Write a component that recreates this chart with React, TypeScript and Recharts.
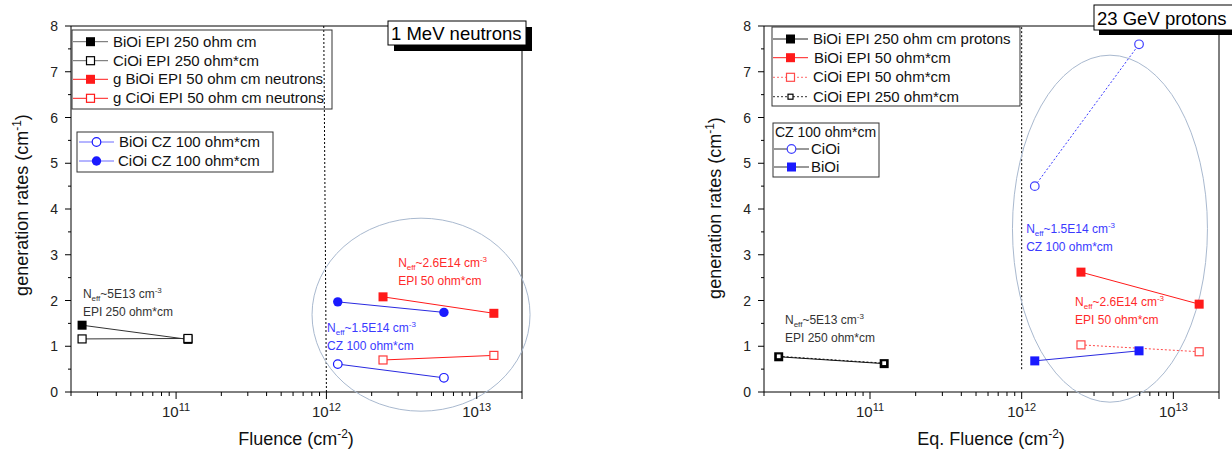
import React from "react";
import {
  ScatterChart,
  Scatter,
  XAxis,
  YAxis,
  ReferenceLine,
  ReferenceDot,
} from "recharts";

const FONT = "'Liberation Sans', Arial, Helvetica, sans-serif";

// 1 MeV neutrons
const nFluenceEpi250 = [2.37e10, 1.2e11];
const nBiOiEpi250 = [1.46, 1.15];
const nCiOiEpi250 = [1.16, 1.17];
const nFluenceEpi50 = [2.38e12, 1.3e13];
const nBiOiEpi50 = [2.08, 1.72];
const nCiOiEpi50 = [0.7, 0.8];
const nFluenceCz = [1.19e12, 6.05e12];
const nBiOiCz = [0.61, 0.31];
const nCiOiCz = [1.97, 1.74];

// 23 GeV protons
const pFluenceEpi250 = [2.5e10, 1.24e11];
const pBiOiEpi250 = [0.77, 0.62];
const pCiOiEpi250 = [0.78, 0.63];
const pFluenceEpi50 = [2.46e12, 1.48e13];
const pBiOiEpi50 = [2.62, 1.92];
const pCiOiEpi50 = [1.03, 0.88];
const pFluenceCz = [1.22e12, 5.94e12];
const pBiOiCz = [0.68, 0.9];
const pCiOiCz = [4.5, 7.6];

const xDomain = [2e10, 2e13];
const xTicks = [
  2e10, 3e10, 4e10, 5e10, 6e10, 7e10, 8e10, 9e10,
  1e11, 2e11, 3e11, 4e11, 5e11, 6e11, 7e11, 8e11, 9e11,
  1e12, 2e12, 3e12, 4e12, 5e12, 6e12, 7e12, 8e12, 9e12,
  1e13, 2e13,
];
const xMajor = [1e11, 1e12, 1e13];
const yTicks = [0, 0.5, 1, 1.5, 2, 2.5, 3, 3.5, 4, 4.5, 5, 5.5, 6, 6.5, 7, 7.5, 8];

const pts = (xs: number[], ys: number[]) => xs.map((x, i) => ({ x, y: ys[i] }));

const RED = "#ff1a1a";
const BLUE = "#1a1aff";

function Marker({ kind, cx, cy, color }: { kind: string; cx: number; cy: number; color: string }) {
  if (kind === "sq") return <rect x={cx - 4.5} y={cy - 4.5} width={9} height={9} fill={color} />;
  if (kind === "osq")
    return <rect x={cx - 4} y={cy - 4} width={8} height={8} fill="#fff" stroke={color} strokeWidth={1.2} />;
  if (kind === "tsq")
    return <rect x={cx - 2.5} y={cy - 2.5} width={5} height={5} fill="#fff" stroke={color} strokeWidth={1.2} />;
  if (kind === "circ") return <circle cx={cx} cy={cy} r={4.7} fill={color} />;
  return <circle cx={cx} cy={cy} r={4.3} fill="#fff" stroke={color} strokeWidth={1.2} />;
}

const shape = (kind: string, color: string) => (p: any) =>
  <Marker kind={kind} cx={p.cx} cy={p.cy} color={color} />;

const XTick = (props: any) => {
  const { x, y, payload } = props;
  const v = payload.value;
  const major = xMajor.includes(v) || v === xDomain[1];
  const len = major ? 7 : 4;
  return (
    <g>
      <line x1={x} x2={x} y1={y} y2={y + len} stroke="#000" strokeWidth={1} />
      {xMajor.includes(v) && (
        <text x={x} y={y + 25} textAnchor="middle" fontFamily={FONT} fill="#222" style={{ fontSize: 15 }}>
          <tspan style={{ fontSize: 15 }}>10</tspan>
          <tspan dy={-6} style={{ fontSize: 11 }}>{Math.round(Math.log10(v))}</tspan>
        </text>
      )}
    </g>
  );
};

const YTick = (props: any) => {
  const { x, y, payload } = props;
  const v = payload.value;
  const major = Number.isInteger(v);
  return (
    <g>
      <line x1={x - (major ? 6 : 3)} x2={x} y1={y} y2={y} stroke="#000" strokeWidth={1} />
      {major && (
        <text x={x - 13} y={y + 5} textAnchor="end" fontSize={14} fontFamily={FONT} fill="#222">
          {v}
        </text>
      )}
    </g>
  );
};

const note = (color: string, value: string, material: string) => (p: any) => (
  <text x={p.cx} y={p.cy} fill={color} fontSize={12} fontFamily={FONT}>
    <tspan>N</tspan>
    <tspan fontSize={8} dy={3}>eff</tspan>
    <tspan dy={-3}>{value} cm</tspan>
    <tspan fontSize={8} dy={-5}>-3</tspan>
    <tspan x={p.cx} dy={23}>{material}</tspan>
  </text>
);

const ellipse = (rx: number, ry: number) => (p: any) => (
  <ellipse cx={p.cx} cy={p.cy} rx={rx} ry={ry} fill="none" stroke="#a9b9cf" strokeWidth={1} />
);

const axes = (
  <>
    <XAxis
      dataKey="x"
      type="number"
      scale="log"
      domain={xDomain}
      allowDataOverflow
      ticks={xTicks}
      interval={0}
      tickSize={0}
      tickMargin={0}
      tickLine={false}
      height={60}
      axisLine={{ stroke: "#000" }}
      tick={<XTick />}
    />
    <YAxis
      dataKey="y"
      type="number"
      domain={[0, 8]}
      ticks={yTicks}
      interval={0}
      tickSize={0}
      tickMargin={0}
      tickLine={false}
      width={71}
      axisLine={{ stroke: "#000" }}
      tick={<YTick />}
    />
    <ReferenceLine y={8} stroke="#000" ifOverflow="visible" />
    <ReferenceLine x={2e13} stroke="#000" ifOverflow="visible" />
  </>
);

function LegendRow({ x, y, kind, color, lineColor, dash, label, textX, width = 35 }: any) {
  return (
    <g>
      <line x1={x} x2={x + width} y1={y} y2={y} stroke={lineColor} strokeDasharray={dash} />
      <Marker kind={kind} cx={x + width / 2} cy={y} color={color} />
      <text x={textX} y={y + 5} fontSize={15} fontFamily={FONT} fill="#111">
        {label}
      </text>
    </g>
  );
}

function Overlay() {
  return (
    <svg
      width={1232}
      height={452}
      style={{ position: "absolute", left: 0, top: 0, pointerEvents: "none" }}
    >
      {/* axis titles */}
      <text transform="rotate(-90)" x={-205} y={28} textAnchor="middle" fontSize={18} fontFamily={FONT} fill="#111">
        generation rates (cm<tspan dy={-7} fontSize={12}>-1</tspan>
        <tspan dy={7}>)</tspan>
      </text>
      <text x={296} y={445} textAnchor="middle" fontSize={18} fontFamily={FONT} fill="#111">
        Fluence (cm<tspan dy={-7} fontSize={12}>-2</tspan>
        <tspan dy={7}>)</tspan>
      </text>
      <text transform="rotate(-90)" x={-208} y={721} textAnchor="middle" fontSize={18} fontFamily={FONT} fill="#111">
        generation rates (cm<tspan dy={-7} fontSize={12}>-1</tspan>
        <tspan dy={7}>)</tspan>
      </text>
      <text x={991} y={445} textAnchor="middle" fontSize={18} fontFamily={FONT} fill="#111">
        Eq. Fluence (cm<tspan dy={-7} fontSize={12}>-2</tspan>
        <tspan dy={7}>)</tspan>
      </text>

      {/* title boxes */}
      <rect x={394} y={27} width={138} height={24} fill="#000" />
      <rect x={388} y={21} width={138} height={24} fill="#fff" stroke="#000" />
      <text x={391} y={39.5} fontSize={18.5} fontFamily={FONT} fill="#000">1 MeV neutrons</text>
      <rect x={1099} y={10} width={140} height={25} fill="#000" />
      <rect x={1094} y={5} width={140} height={25} fill="#fff" stroke="#000" />
      <text x={1097} y={25} fontSize={18.5} fontFamily={FONT} fill="#000">23 GeV protons</text>

      {/* left legends */}
      <rect x={72} y={30} width={260} height={79} fill="none" stroke="#333" />
      <LegendRow x={73} y={41.7} kind="sq" color="#000" lineColor="#666" label="BiOi EPI 250 ohm cm" textX={113} />
      <LegendRow x={73} y={60.7} kind="osq" color="#000" lineColor="#666" label="CiOi EPI 250 ohm*cm" textX={113} />
      <LegendRow x={73} y={79.3} kind="sq" color={RED} lineColor={RED} label="g BiOi EPI 50 ohm cm neutrons" textX={113} />
      <LegendRow x={73} y={98.3} kind="osq" color={RED} lineColor={RED} label="g CiOi EPI 50 ohm cm neutrons" textX={113} />
      <rect x={77} y={132} width={196} height={40} fill="none" stroke="#333" />
      <LegendRow x={79} y={142} kind="ocirc" color={BLUE} lineColor="#6a6aff" label=" BiOi CZ 100 ohm*cm" textX={119} />
      <LegendRow x={79} y={161} kind="circ" color={BLUE} lineColor="#6a6aff" label="CiOi CZ 100 ohm*cm" textX={118} />

      {/* right legends */}
      <rect x={772} y={27} width={248} height={79} fill="none" stroke="#333" />
      <LegendRow x={773} y={39} kind="sq" color="#000" lineColor="#222" label="BiOi EPI 250 ohm cm protons" textX={813} />
      <LegendRow x={773} y={57.7} kind="sq" color={RED} lineColor={RED} label=" BiOi EPI 50 ohm*cm" textX={814} />
      <LegendRow x={773} y={77.3} kind="osq" color="#ff4a4a" lineColor="#ff6a6a" dash="2 2" label="CiOi EPI 50 ohm*cm" textX={813} />
      <LegendRow x={773} y={96.7} kind="tsq" color="#000" lineColor="#333" dash="2 2" label="CiOi EPI 250 ohm*cm" textX={813} />
      <rect x={773} y={123} width={106} height={54} fill="none" stroke="#333" />
      <text x={775} y={137} fontSize={14} fontFamily={FONT} fill="#111">CZ 100 ohm*cm</text>
      <LegendRow x={774} y={149} kind="ocirc" color="#4040ff" lineColor="#333" label="CiOi" textX={811} />
      <LegendRow x={774} y={167} kind="sq" color={BLUE} lineColor="#333" label="BiOi" textX={811} />
    </svg>
  );
}

export default function App() {
  return (
    <div style={{ position: "absolute", left: 0, top: 0, width: 1232, height: 452, background: "#fff", fontFamily: FONT }}>
      <div style={{ position: "absolute", left: 0, top: 0 }}>
        <ScatterChart width={540} height={452} margin={{ top: 26, right: 18, bottom: 0, left: 0 }}>
          {axes}
          <ReferenceLine
            segment={[{ x: 1e12, y: 0 }, { x: 0.96e12, y: 8 }]}
            stroke="#000"
            strokeDasharray="2 2"
          />
          <ReferenceDot x={4.26e12} y={1.69} r={0} ifOverflow="visible" shape={ellipse(109, 96.5)} />
          <Scatter data={pts(nFluenceEpi250, nBiOiEpi250)} line={{ stroke: "#333", strokeWidth: 1 }} lineType="joint" shape={shape("sq", "#000")} isAnimationActive={false} />
          <Scatter data={pts(nFluenceEpi250, nCiOiEpi250)} line={{ stroke: "#333", strokeWidth: 1 }} lineType="joint" shape={shape("osq", "#000")} isAnimationActive={false} />
          <Scatter data={pts(nFluenceEpi50, nBiOiEpi50)} line={{ stroke: RED, strokeWidth: 1 }} lineType="joint" shape={shape("sq", RED)} isAnimationActive={false} />
          <Scatter data={pts(nFluenceEpi50, nCiOiEpi50)} line={{ stroke: RED, strokeWidth: 1 }} lineType="joint" shape={shape("osq", "#ff3a3a")} isAnimationActive={false} />
          <Scatter data={pts(nFluenceCz, nBiOiCz)} line={{ stroke: "#2a2ae0", strokeWidth: 1 }} lineType="joint" shape={shape("ocirc", BLUE)} isAnimationActive={false} />
          <Scatter data={pts(nFluenceCz, nCiOiCz)} line={{ stroke: "#2a2ae0", strokeWidth: 1 }} lineType="joint" shape={shape("circ", BLUE)} isAnimationActive={false} />
          <ReferenceDot x={2.4e10} y={2.05} r={0} ifOverflow="visible" shape={note("#333", "~5E13", "EPI 250 ohm*cm")} />
          <ReferenceDot x={3e12} y={2.73} r={0} ifOverflow="visible" shape={note("#ff2a2a", "~2.6E14", "EPI 50 ohm*cm")} />
          <ReferenceDot x={1.01e12} y={1.31} r={0} ifOverflow="visible" shape={note("#3a3aff", "~1.5E14", "CZ 100 ohm*cm")} />
        </ScatterChart>
      </div>
      <div style={{ position: "absolute", left: 693, top: 0 }}>
        <ScatterChart width={539} height={452} margin={{ top: 26, right: 13, bottom: 0, left: 0 }}>
          {axes}
          <ReferenceLine
            segment={[{ x: 1e12, y: 0.5 }, { x: 1e12, y: 8 }]}
            stroke="#000"
            strokeDasharray="2 2"
          />
          <ReferenceDot x={3.82e12} y={3.57} r={0} ifOverflow="visible" shape={ellipse(97.5, 173.5)} />
          <Scatter data={pts(pFluenceEpi250, pBiOiEpi250)} line={{ stroke: "#111", strokeWidth: 1 }} lineType="joint" shape={shape("sq", "#000")} isAnimationActive={false} />
          <Scatter data={pts(pFluenceEpi250, pCiOiEpi250)} line={{ stroke: "#111", strokeWidth: 1, strokeDasharray: "2 2" }} lineType="joint" shape={shape("tsq", "#000")} isAnimationActive={false} />
          <Scatter data={pts(pFluenceEpi50, pBiOiEpi50)} line={{ stroke: RED, strokeWidth: 1 }} lineType="joint" shape={shape("sq", RED)} isAnimationActive={false} />
          <Scatter data={pts(pFluenceEpi50, pCiOiEpi50)} line={{ stroke: "#ff4a4a", strokeWidth: 1, strokeDasharray: "2 2" }} lineType="joint" shape={shape("osq", "#ff4a4a")} isAnimationActive={false} />
          <Scatter data={pts(pFluenceCz, pBiOiCz)} line={{ stroke: "#2a2ae0", strokeWidth: 1 }} lineType="joint" shape={shape("sq", BLUE)} isAnimationActive={false} />
          <Scatter data={pts(pFluenceCz, pCiOiCz)} line={{ stroke: "#3a3aff", strokeWidth: 1, strokeDasharray: "2 2" }} lineType="joint" shape={shape("ocirc", "#4040ff")} isAnimationActive={false} />
          <ReferenceDot x={2.75e10} y={1.49} r={0} ifOverflow="visible" shape={note("#333", "~5E13", "EPI 250 ohm*cm")} />
          <ReferenceDot x={2.25e12} y={1.88} r={0} ifOverflow="visible" shape={note("#ff2a2a", "~2.6E14", "EPI 50 ohm*cm")} />
          <ReferenceDot x={1.07e12} y={3.48} r={0} ifOverflow="visible" shape={note("#3a3aff", "~1.5E14", "CZ 100 ohm*cm")} />
        </ScatterChart>
      </div>
      <Overlay />
    </div>
  );
}
